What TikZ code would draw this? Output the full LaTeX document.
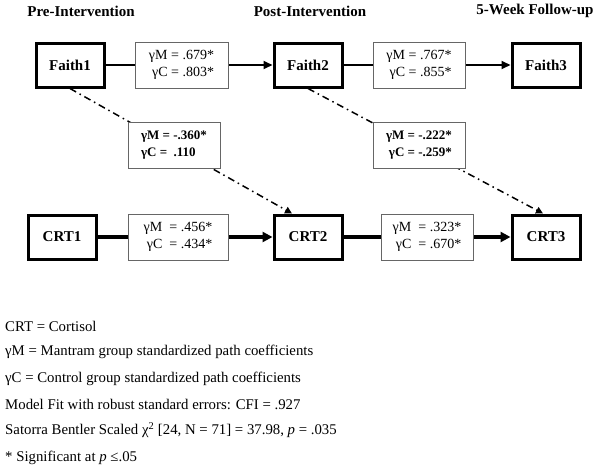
\documentclass[tikz,border=0pt]{standalone}
\usepackage{fontspec}
\setmainfont{Liberation Serif}
\usetikzlibrary{arrows.meta,calc}
\begin{document}
\begin{tikzpicture}[x=1pt,y=-1pt,
  var/.style={draw, line width=3pt, minimum width=68pt, minimum height=44pt, inner sep=0pt,
    font=\fontsize{15}{18}\selectfont\bfseries},
  lab/.style={draw=black!60, line width=0.8pt, fill=white, minimum height=46pt, inner sep=2pt,
    align=right, font=\fontsize{14}{17}\selectfont},
  blab/.style={lab, font=\fontsize{13}{17}\selectfont\bfseries},
  hdr/.style={font=\fontsize{15}{18}\selectfont\bfseries},
  note/.style={anchor=west, inner sep=0pt, font=\fontsize{14.8}{17}\selectfont},
  thinarrow/.style={line width=2pt, -{Triangle[length=9pt,width=8pt]}},
  thickarrow/.style={line width=4.5pt, -{Triangle[length=10pt,width=10pt]}},
  diag/.style={line width=1.5pt, dash pattern=on 7pt off 4pt on 1.5pt off 4pt,
    -{Triangle[length=7pt,width=7pt]}}
]
\useasboundingbox (0,0) rectangle (600,471);
% headers
\node[hdr] (h1) at (81,11) {Pre-Intervention};
\node[hdr] (h2) at (310,11) {Post-Intervention};
\node[hdr] (h3) at (535,11) {5-Week Follow-up};
% variables
\node[var] (f1) at (70,65) {Faith1};
\node[var] (f2) at (308,65) {Faith2};
\node[var] (f3) at (546,65) {Faith3};
\node[var] (c1) at (62,237) {CRT1};
\node[var] (c2) at (308,237) {CRT2};
\node[var] (c3) at (546,237) {CRT3};
% connectors
\draw[thinarrow] (f1) -- (f2);
\draw[thinarrow] (f2) -- (f3);
\draw[thickarrow] (c1) -- (c2);
\draw[thickarrow] (c2) -- (c3);
\draw[diag] (f1.south) -- ($(c2.north)+(-16,0)$);
\draw[diag] (f2.south) -- ($(c3.north)+(-3,0)$);
% labels
\node[lab, minimum width=93pt] (l1) at (181.5,65) {γM = .679*\\γC = .803*};
\node[lab, minimum width=92pt] (l2) at (419,65) {γM = .767*\\γC = .855*};
\node[lab, minimum width=100pt] (l3) at (178,237) {γM\enspace= .456*\\γC\enspace= .434*};
\node[lab, minimum width=92pt] (l4) at (427,237) {γM\enspace= .323*\\γC\enspace= .670*};
\node[blab, minimum width=92pt, align=left] (d1) at (174,145) {γM = -.360*\\γC =\enspace.110};
\node[blab, minimum width=92pt] (d2) at (419,145) {γM = -.222*\\γC = -.259*};
% notes
\node[note] (n1) at (5,326) {CRT = Cortisol};
\node[note] (n2) at (5,352) {γM = Mantram group standardized path coefficients};
\node[note] (n3) at (5,379) {γC = Control group standardized path coefficients};
\node[note] (n4) at (5,404) {Model Fit with robust standard errors: CFI = .927};
\node[note] (n5) at (5,430) {Satorra Bentler Scaled χ\textsuperscript{2} [24, N = 71] = 37.98, \textit{p} = .035};
\node[note] (n6) at (5,458) {* Significant at \textit{p} ≤.05};
\end{tikzpicture}
\end{document}
